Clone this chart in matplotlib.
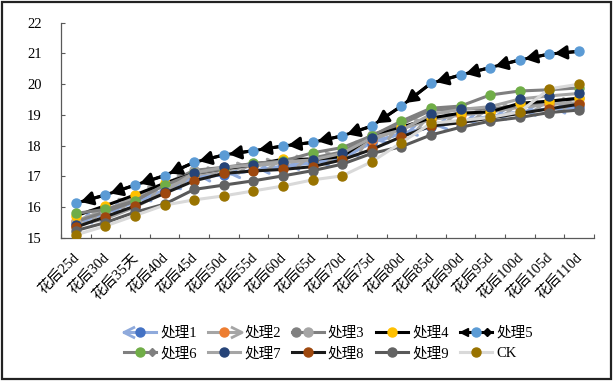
import matplotlib
matplotlib.use('Agg')
import matplotlib.pyplot as plt
from matplotlib.lines import Line2D
from matplotlib.path import Path
from matplotlib.patches import Rectangle
from matplotlib.legend_handler import HandlerBase

plt.rcParams['font.family'] = ['Liberation Serif', 'Noto Sans CJK SC']

# 数据
days = ['花后25d', '花后30d', '花后35天', '花后40d', '花后45d', '花后50d', '花后55d', '花后60d', '花后65d',
        '花后70d', '花后75d', '花后80d', '花后85d', '花后90d', '花后95d', '花后100d', '花后105d', '花后110d']

t1 = [15.50, 15.80, 16.18, 16.55, 16.98, 17.05, 17.20, 17.33, 17.45, 17.60, 18.10, 18.40, 18.60, 18.80, 18.95, 19.10, 19.20, 19.25]
t2 = [15.55, 15.90, 16.30, 16.70, 17.05, 17.20, 17.35, 17.45, 17.55, 17.70, 18.20, 18.55, 18.85, 19.00, 19.10, 19.25, 19.35, 19.40]
t3 = [15.53, 15.85, 16.20, 16.75, 17.20, 17.30, 17.42, 17.50, 17.60, 17.80, 18.35, 18.70, 19.15, 19.20, 19.20, 19.30, 19.45, 19.55]
t4 = [15.72, 16.05, 16.40, 16.78, 17.10, 17.25, 17.38, 17.56, 17.55, 17.65, 18.30, 18.60, 18.90, 19.06, 19.10, 19.38, 19.45, 19.54]
t5 = [16.13, 16.40, 16.72, 17.03, 17.46, 17.70, 17.84, 17.99, 18.11, 18.32, 18.64, 19.29, 20.03, 20.30, 20.54, 20.79, 20.98, 21.07]
t6 = [15.80, 15.93, 16.21, 16.72, 17.10, 17.25, 17.43, 17.50, 17.77, 17.94, 18.32, 18.80, 19.22, 19.29, 19.65, 19.78, 19.82, 19.88]
t7 = [15.42, 15.62, 16.00, 16.50, 17.12, 17.30, 17.37, 17.48, 17.54, 17.75, 18.26, 18.51, 19.02, 19.18, 19.27, 19.52, 19.62, 19.70]
t8 = [15.35, 15.69, 16.04, 16.45, 16.86, 17.10, 17.18, 17.23, 17.32, 17.54, 17.88, 18.29, 18.64, 18.75, 18.90, 19.05, 19.20, 19.35]
t9 = [15.24, 15.50, 15.84, 16.10, 16.58, 16.72, 16.86, 17.02, 17.19, 17.40, 17.75, 17.97, 18.35, 18.60, 18.80, 18.92, 19.08, 19.16]
ck = [15.10, 15.39, 15.73, 16.07, 16.24, 16.37, 16.53, 16.69, 16.89, 17.02, 17.48, 18.10, 18.73, 18.82, 18.92, 19.10, 19.85, 20.00]

names = ['处理1', '处理2', '处理3', '处理4', '处理5', '处理6', '处理7', '处理8', '处理9', 'CK']
values = [t1, t2, t3, t4, t5, t6, t7, t8, t9, ck]
line_colors = ['#8FAADC', '#A5A5A5', '#808080', '#000000', '#000000',
               '#7F7F7F', '#A5A5A5', '#1A1A1A', '#595959', '#D9D9D9']
marker_colors = ['#4472C4', '#ED7D31', '#A5A5A5', '#FFC000', '#5B9BD5',
                 '#70AD47', '#264478', '#9E480E', '#636363', '#997300']
# 线段两端的箭头样式 (左端, 右端)
ends = [('open<', None), (None, 'open>'), ('circle', None), (None, None), ('<', 'D'),
        (None, 'D'), (None, None), (None, None), (None, None), (None, None)]

chevron_l = Path([(1, 1), (-1, 0), (1, -1)], [Path.MOVETO, Path.LINETO, Path.LINETO])
chevron_r = Path([(-1, 1), (1, 0), (-1, -1)], [Path.MOVETO, Path.LINETO, Path.LINETO])


class SeriesHandler(HandlerBase):
    def __init__(self, lc, mc, left, right):
        super().__init__()
        self.lc, self.mc, self.left, self.right = lc, mc, left, right

    def _end(self, kind, x, y, trans):
        if kind is None:
            return None
        if kind == 'open<':
            return Line2D([x], [y], marker=chevron_l, ms=8, mfc='none', mec=self.lc, mew=2, transform=trans)
        if kind == 'open>':
            return Line2D([x], [y], marker=chevron_r, ms=8, mfc='none', mec=self.lc, mew=2, transform=trans)
        if kind == 'circle':
            return Line2D([x], [y], marker='o', ms=6.5, mfc='#808080', mec='#808080', transform=trans)
        if kind == '<':
            return Line2D([x], [y], marker='<', ms=6, mfc='k', mec='k', transform=trans)
        if kind == 'D':
            return Line2D([x], [y], marker='D', ms=4.5, mfc=self.lc, mec=self.lc, transform=trans)

    def create_artists(self, legend, orig_handle, xdescent, ydescent, width, height, fontsize, trans):
        y = height / 2 - ydescent
        x0, x1 = -xdescent, width - xdescent
        arts = [Line2D([x0, x1], [y, y], color=self.lc, lw=2.2, transform=trans)]
        for kind, x in ((self.left, x0 + 3), (self.right, x1 - 3)):
            a = self._end(kind, x, y, trans)
            if a is not None:
                arts.append(a)
        arts.append(Line2D([(x0 + x1) / 2], [y], marker='o', ms=6.5, mfc=self.mc, mec=self.mc,
                           ls='none', transform=trans))
        return arts


fig = plt.figure(figsize=(6.14, 3.81), dpi=100)
ax = fig.add_axes([0.0993, 0.3753, 0.8677, 0.5651])

x = list(range(len(days)))
handles = []
handler_map = {}
for k, (name, vals) in enumerate(zip(names, values)):
    lc, mc = line_colors[k], marker_colors[k]
    z = 3 + k
    ax.plot(x, vals, color=lc, lw=2.2, zorder=z, solid_capstyle='round')
    left, right = ends[k]
    if left in ('<', 'open<') or right == 'open>':
        style = '-|>,head_length=0.8,head_width=0.45' if left == '<' else '->,head_length=0.6,head_width=0.4'
        for i in range(len(vals) - 1):
            if right == 'open>':
                xy, xyt = (x[i + 1], vals[i + 1]), (x[i], vals[i])
            else:
                xy, xyt = (x[i], vals[i]), (x[i + 1], vals[i + 1])
            ax.annotate('', xy=xy, xytext=xyt, zorder=z,
                        arrowprops=dict(arrowstyle=style, color=lc, lw=2.2, shrinkA=0, shrinkB=3.6,
                                        mutation_scale=9))
    ax.plot(x, vals, ls='none', marker='o', ms=6.5, mfc=mc, mec=mc, zorder=z + 0.5)
    h = Line2D([], [], color=lc)
    handles.append(h)
    handler_map[h] = SeriesHandler(lc, mc, left, right)

ax.set_xlim(-0.5, len(days) - 0.5)
ax.set_ylim(15, 22)
ax.set_yticks(range(15, 23))
ax.set_xticks([i - 0.5 for i in range(len(days) + 1)])
ax.set_xticklabels([])
for i, d in enumerate(days):
    ax.text(i + 0.05, 14.42, d, rotation=45, ha='right', va='center', rotation_mode='anchor',
            fontsize=10.5)
ax.tick_params(axis='y', direction='in', length=3, labelsize=10.5, pad=14, color='#595959')
ax.tick_params(axis='x', direction='in', length=3, color='#595959')
for s in ('top', 'right'):
    ax.spines[s].set_visible(False)
for s in ('left', 'bottom'):
    ax.spines[s].set_color('#595959')
    ax.spines[s].set_linewidth(0.9)

# 图例按行排列 (5列2行)
order = [0, 5, 1, 6, 2, 7, 3, 8, 4, 9]
fig.legend([handles[i] for i in order], [names[i] for i in order], handler_map=handler_map,
           loc='center', bbox_to_anchor=(0.535, 0.099), ncol=5, frameon=False, fontsize=10.5,
           handlelength=2.15, handletextpad=0.3, columnspacing=0.8, labelspacing=0.5)

fig.patches.append(Rectangle((0.003, 0.004), 0.992, 0.99, transform=fig.transFigure,
                             fill=False, lw=1.6, edgecolor='#222222'))

fig.savefig('out.png', dpi=100)
